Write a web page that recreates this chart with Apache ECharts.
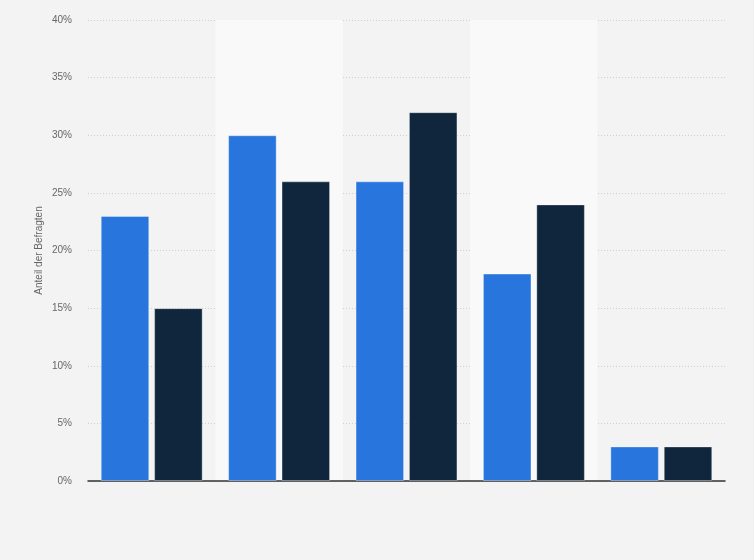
<!DOCTYPE html>
<html>
<head>
<meta charset="utf-8">
<script src="https://cdn.jsdelivr.net/npm/echarts@6/dist/echarts.min.js"></script>
<style>
html,body{margin:0;padding:0;background:#f3f3f3;}
#chart{width:754px;height:560px;}
</style>
</head>
<body>
<div id="chart"></div>
<script>
const categories = ['A', 'B', 'C', 'D', 'E'];
const seriesBlue = [23, 30, 26, 18, 3];
const seriesDark = [15, 26, 32, 24, 3];
const yTicks = [0, 5, 10, 15, 20, 25, 30, 35, 40];

const chart = echarts.init(document.getElementById('chart'));
chart.setOption({
  backgroundColor: '#f3f3f3',
  animation: false,
  textStyle: { fontFamily: '"Liberation Sans", Arial, sans-serif' },
  grid: { left: 88, right: 29, top: 20, bottom: 79, containLabel: false },
  xAxis: {
    type: 'category',
    data: categories,
    axisLine: { lineStyle: { color: '#333', width: 1.5 } },
    axisTick: { show: false },
    axisLabel: { show: false },
    splitArea: { show: true, areaStyle: { color: ['rgba(0,0,0,0)', '#f9f9f9'] } }
  },
  yAxis: {
    type: 'value',
    min: yTicks[0],
    max: yTicks[yTicks.length - 1],
    interval: 5,
    name: 'Anteil der Befragten',
    nameLocation: 'middle',
    nameGap: 44,
    nameMoveOverlap: false,
    nameTextStyle: { color: '#666', fontSize: 10 },
    axisLine: { show: false },
    axisTick: { show: false },
    axisLabel: { color: '#666', fontSize: 10, margin: 16, formatter: '{value}%' },
    splitLine: { lineStyle: { color: '#cfcfcf', type: [1, 2], width: 1 } }
  },
  series: [
    {
      type: 'bar',
      data: seriesBlue,
      barGap: '10%',
      barCategoryGap: '20%',
      itemStyle: { color: '#2876dd', borderColor: 'rgba(255,255,255,0.35)', borderWidth: 1 }
    },
    {
      type: 'bar',
      data: seriesDark,
      itemStyle: { color: '#0f263d', borderColor: 'rgba(255,255,255,0.35)', borderWidth: 1 }
    }
  ]
});
</script>
</body>
</html>
